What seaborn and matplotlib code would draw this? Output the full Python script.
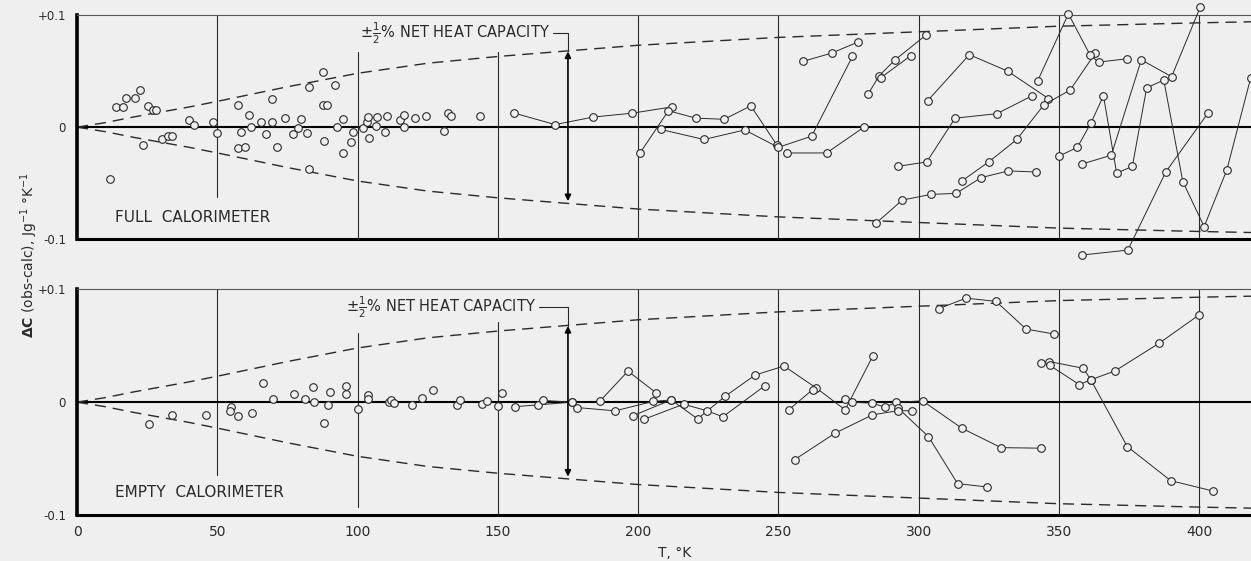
import matplotlib
matplotlib.use("Agg")
import matplotlib.pyplot as plt
import seaborn as sns

# ---- data: T in K, deviation in J g-1 K-1 ----
full_pts_t = [11.8, 13.8, 16.5, 17.5, 20.8, 22.6, 23.6, 25.2, 27.0, 28.0, 30.3, 32.3, 33.9,
              40.0, 41.8, 48.4, 49.8, 57.3, 57.4, 58.5, 60.0, 61.3, 62.1, 65.6, 67.3, 69.4,
              69.4, 71.3, 74.3, 76.9, 78.6, 80.0, 82.1, 82.6, 82.7, 87.6, 87.6, 89.0, 88.2,
              91.8, 92.8, 94.9, 94.9, 97.7, 98.5, 101.8, 103.5, 103.8, 104.2, 106.5, 107.1,
              109.8, 110.4, 115.2, 116.7, 116.7, 120.6, 124.4, 130.7, 132.1, 133.3, 143.7]
full_pts_v = [-0.046, 0.018, 0.018, 0.026, 0.026, 0.033, -0.016, 0.019, 0.015, 0.015, -0.011,
              -0.008, -0.008, 0.0065, 0.002, 0.0045, -0.005, 0.020, -0.019, -0.0045, -0.0176,
              0.011, 0.0, 0.0047, -0.006, 0.0255, 0.005, -0.0176, 0.0086, -0.006, -0.0006,
              0.007, -0.0048, 0.0357, -0.037, 0.049, 0.0196, 0.0196, -0.012, 0.038, 0.0, 0.007,
              -0.0227, -0.013, -0.004, -0.001, 0.005, 0.009, -0.010, 0.0014, 0.009, -0.004,
              0.0095, 0.006, 0.011, 0.0005, 0.008, 0.0095, -0.003, 0.013, 0.010, 0.0095]

full_run01 = [(155.9, 0.0125), (170.4, 0.0023), (184.0, 0.009), (198.0, 0.0125), (212.0, 0.018)]
full_run02 = [(200.7, -0.023), (210.8, 0.0146), (220.7, 0.008), (230.7, 0.007), (240.2, 0.019),
              (249.5, -0.016)]
full_run03 = [(208.0, -0.002), (223.5, -0.011), (238.0, -0.0025), (250.0, -0.018),
              (261.9, -0.008), (276.4, 0.063)]
full_run04 = [(253.0, -0.023), (267.2, -0.023), (280.7, 0.0003)]
full_run05 = [(258.7, 0.0586), (269.0, 0.066), (278.5, 0.076)]
full_run06 = [(282.0, 0.0295), (286.0, 0.046), (291.6, 0.060), (302.6, 0.082)]
full_run07 = [(286.5, 0.044), (297.2, 0.0637)]
full_run08 = [(284.8, -0.0857), (294.2, -0.065), (304.3, -0.060), (313.4, -0.059),
              (322.3, -0.045), (332.0, -0.039), (342.0, -0.040)]
full_run09 = [(292.5, -0.035), (302.9, -0.031), (313.0, 0.008), (327.9, 0.012), (340.5, 0.028)]
full_run10 = [(303.2, 0.0235), (318.1, 0.0646), (331.7, 0.050), (346.3, 0.0255)]
full_run11 = [(315.4, -0.048), (325.0, -0.031), (335.0, -0.011), (344.7, 0.020), (354.0, 0.033),
              (363.0, 0.066)]
full_run12 = [(342.4, 0.041), (353.4, 0.101), (361.2, 0.064), (364.2, 0.058), (374.4, 0.061)]
full_run13 = [(349.9, -0.026), (356.6, -0.018), (361.5, 0.004), (365.9, 0.028), (370.6, -0.041),
              (376.2, -0.035), (381.3, 0.035), (387.4, 0.042), (394.2, -0.0486),
              (401.8, -0.0887), (409.9, -0.038), (418.4, 0.044)]
full_run14 = [(358.1, -0.033), (368.7, -0.025), (379.4, 0.060), (390.2, 0.045), (400.4, 0.107)]
full_run15 = [(358.2, -0.114), (374.6, -0.1096), (388.1, -0.040), (403.3, 0.013)]
full_runs = [full_run01, full_run02, full_run03, full_run04, full_run05, full_run06, full_run07,
             full_run08, full_run09, full_run10, full_run11, full_run12, full_run13, full_run14,
             full_run15]

empty_pts_t = [25.6, 34.0, 45.9, 54.8, 54.6, 57.3, 62.4, 66.2, 70.0, 77.5, 81.2, 84.0, 84.4,
               88.2, 89.6, 90.3, 96.0, 96.0, 100.3, 103.7, 103.7, 111.2, 111.8, 112.9, 119.3,
               122.8, 127.0, 135.6, 136.6, 144.3, 146.3, 150.2, 151.5]
empty_pts_v = [-0.0193, -0.011, -0.011, -0.004, -0.0074, -0.012, -0.0098, 0.0174, 0.0032,
               0.0076, 0.0027, 0.013, 0.0003, -0.0186, -0.0024, 0.0094, 0.0147, 0.0074,
               -0.0057, 0.0062, 0.0027, 0.0, 0.0015, -0.0006, -0.0024, 0.0035, 0.011, -0.0024,
               0.0015, -0.0015, 0.0006, -0.0033, 0.008]

empty_run01 = [(156.1, -0.004), (164.4, -0.0024), (176.3, 0.0), (178.4, -0.0048),
               (191.8, -0.0077), (205.3, 0.0006), (211.8, 0.002), (221.2, -0.0148),
               (231.1, 0.0053), (241.7, 0.024), (252.0, 0.032), (263.6, 0.0124),
               (273.8, -0.0068), (283.7, 0.041)]
empty_run02 = [(166.2, 0.0015), (176.3, 0.0)]
empty_run03 = [(186.3, 0.0006), (196.4, 0.0275), (206.3, 0.0085)]
empty_run04 = [(198.3, -0.0119), (211.8, 0.002)]
empty_run05 = [(202.2, -0.0151), (216.2, -0.0018), (224.7, -0.0077), (230.2, -0.013),
               (245.3, 0.0147)]
empty_run06 = [(253.7, -0.0068), (262.2, 0.011)]
empty_run07 = [(273.8, 0.0032), (276.2, 0.0), (283.5, -0.0009), (288.0, -0.0044),
               (291.9, -0.0003), (301.4, 0.0012), (315.4, -0.0231), (329.4, -0.0403),
               (343.8, -0.0408)]
empty_run08 = [(292.5, -0.0048), (303.5, -0.0305), (313.9, -0.0722), (324.5, -0.0752)]
empty_run09 = [(255.8, -0.051), (270.2, -0.0275), (283.5, -0.0113), (292.8, -0.0075),
               (297.5, -0.0077)]
empty_run10 = [(307.2, 0.0828), (316.9, 0.0922), (327.6, 0.0893), (338.3, 0.0648),
               (348.4, 0.0603)]
empty_run11 = [(343.6, 0.035), (346.6, 0.036), (358.7, 0.030), (361.4, 0.0198),
               (374.4, -0.0394), (389.9, -0.0696), (404.9, -0.0787)]
empty_run12 = [(346.8, 0.0325), (357.3, 0.0156), (361.4, 0.0198), (370.1, 0.0278),
               (385.8, 0.0523), (400.1, 0.0775)]
empty_runs = [empty_run01, empty_run02, empty_run03, empty_run04, empty_run05, empty_run06,
              empty_run07, empty_run08, empty_run09, empty_run10, empty_run11, empty_run12]

# +/- 1/2 % of net heat capacity
env_t = [0, 10, 20, 30, 40, 50, 75, 100, 125, 150, 175, 200, 250, 300, 350, 400, 420]
env_v = [0, 0.004, 0.009, 0.0135, 0.018, 0.023, 0.036, 0.048, 0.057, 0.063, 0.068, 0.073,
         0.080, 0.085, 0.090, 0.093, 0.094]

BG = "#efefef"
INK = "#2a2a2a"

sns.set_style("white")
plt.rcParams["font.family"] = ["DejaVu Sans"]
plt.rcParams["mathtext.fontset"] = "dejavusans"


def draw_panel(ax, pts_t, pts_v, runs, label, vgaps, txt_end):
    ax.set_facecolor(BG)
    # grid verticals, some broken around the labels
    for t, lo, hi in vgaps:
        ax.axvline(t, ymin=lo, ymax=hi, color=INK, lw=0.8, zorder=1)
    ax.axhline(0, color="black", lw=1.5, zorder=2)
    ax.plot(env_t, env_v, ls=(0, (8, 5)), color=INK, lw=1.0, zorder=2)
    ax.plot(env_t, [-v for v in env_v], ls=(0, (8, 5)), color=INK, lw=1.0, zorder=2)

    for run in runs:
        t = [p[0] for p in run]
        v = [p[1] for p in run]
        sns.lineplot(x=t, y=v, ax=ax, sort=False, estimator=None, color=INK, lw=0.7,
                     marker="o", markersize=5.5, markerfacecolor=BG, markeredgecolor=INK,
                     markeredgewidth=0.8, clip_on=False, zorder=3)
    sns.scatterplot(x=pts_t, y=pts_v, ax=ax, s=30, facecolor=BG, edgecolor=INK,
                    linewidth=0.8, zorder=4, clip_on=False)

    ax.text(txt_end, 0.084, r"$\pm\frac{1}{2}$% NET HEAT CAPACITY", ha="right", va="center",
            fontsize=10.5, color=INK)
    ax.plot([txt_end + 0.8, 175, 175], [0.084, 0.084, 0.0675], color=INK, lw=0.8)
    ax.annotate("", xy=(175, -0.066), xytext=(175, 0.0675),
                arrowprops=dict(arrowstyle="<|-|>", color="black", lw=1.2,
                                mutation_scale=9, shrinkA=0, shrinkB=0))
    ax.text(13.5, -0.0805, label, ha="left", va="center", fontsize=11, color=INK)

    ax.set_xlim(0, 418.5)
    ax.set_ylim(-0.1, 0.1)
    ax.set_xticks(range(0, 401, 50))
    ax.set_yticks([-0.1, 0, 0.1])
    ax.set_yticklabels(["-0.1", "0", "+0.1"])
    ax.tick_params(axis="x", direction="in", length=4, width=0.8, colors=INK, labelsize=10,
                   pad=7)
    ax.tick_params(axis="y", length=0, pad=8, colors=INK, labelsize=8.5)
    ax.set_xlabel("")
    ax.set_ylabel("")
    ax.spines["right"].set_visible(False)
    ax.spines["top"].set_linewidth(0.8)
    ax.spines["top"].set_color("#555555")
    ax.spines["bottom"].set_linewidth(2.2)
    ax.spines["bottom"].set_color("black")
    ax.spines["left"].set_linewidth(2.6)
    ax.spines["left"].set_color("black")


fig = plt.figure(figsize=(12.51, 5.61), dpi=100)
fig.patch.set_facecolor(BG)
ax_full = fig.add_axes([0.0616, 0.5734, 0.9384, 0.3999])
ax_empty = fig.add_axes([0.0616, 0.0820, 0.9384, 0.4023])

full_gaps = [(50, 0.19, 1), (100, 0, 0.835), (150, 0, 0.835), (200, 0, 1), (250, 0, 1),
             (300, 0, 1), (350, 0, 1), (400, 0, 1)]
empty_gaps = [(50, 0.178, 1), (100, 0.035, 0.808), (150, 0, 0.855), (200, 0, 1), (250, 0, 1),
              (300, 0, 1), (350, 0, 1), (400, 0, 1)]

draw_panel(ax_full, full_pts_t, full_pts_v, full_runs, "FULL  CALORIMETER", full_gaps, 168.8)
draw_panel(ax_empty, empty_pts_t, empty_pts_v, empty_runs, "EMPTY  CALORIMETER", empty_gaps, 163.8)
ax_full.tick_params(axis="x", labelbottom=False)

fig.text(0.023, 0.545, r"$\mathbf{\Delta C}$ (obs-calc), Jg$^{-1}$ °K$^{-1}$", rotation=90,
         ha="center", va="center", fontsize=10, color=INK)
fig.text(0.539, 0.014, "T, °K", ha="center", va="center", fontsize=10, color=INK)

fig.savefig("out.png", dpi=100, facecolor=BG)
